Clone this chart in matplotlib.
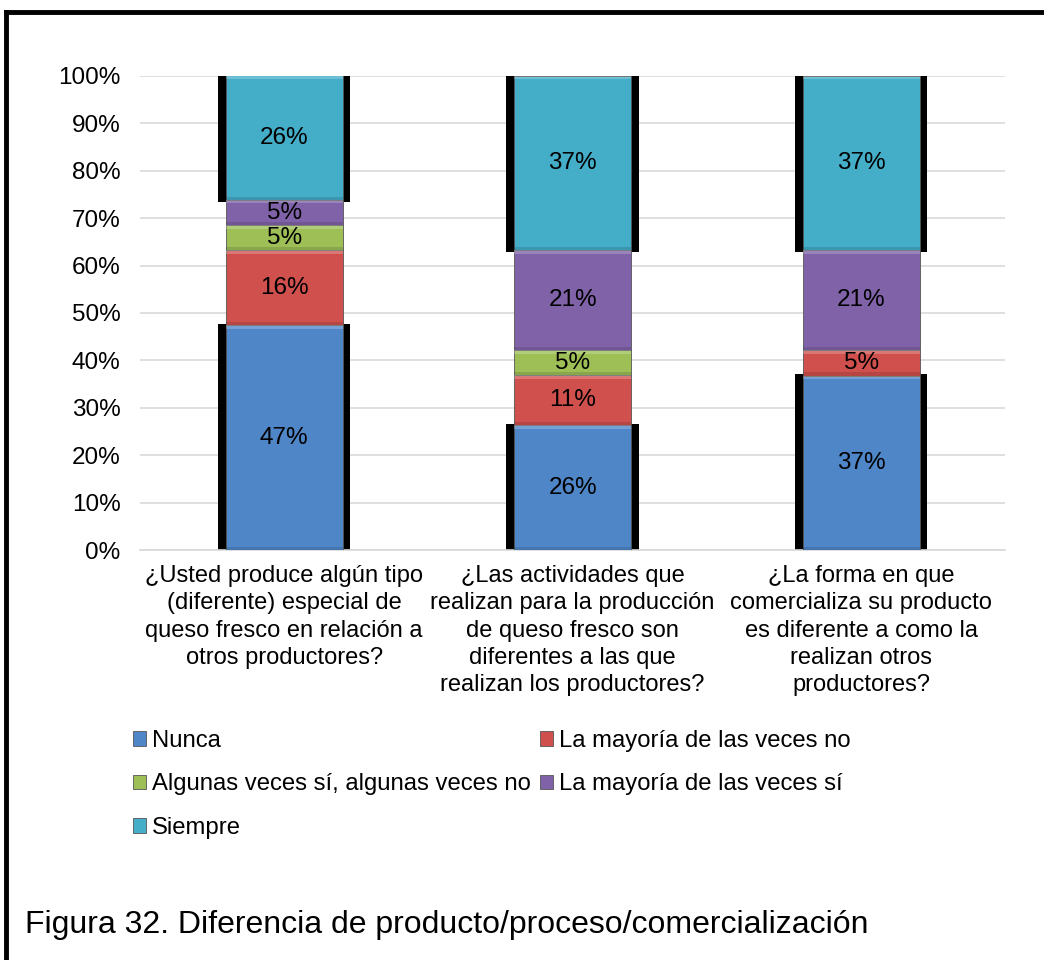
import matplotlib
matplotlib.use("Agg")
import matplotlib.pyplot as plt
import matplotlib.patches as mpatches
from matplotlib.lines import Line2D
import numpy as np

plt.rcParams['font.family'] = ['Liberation Sans', 'DejaVu Sans']

# Datos (porcentajes)
categorias = [
    "¿Usted produce algún tipo\n(diferente) especial de\nqueso fresco en relación a\notros productores?",
    "¿Las actividades que\nrealizan para la producción\nde queso fresco son\ndiferentes a las que\nrealizan los productores?",
    "¿La forma en que\ncomercializa su producto\nes diferente a como la\nrealizan otros\nproductores?",
]
series = ["Nunca", "La mayoría de las veces no", "Algunas veces sí, algunas veces no",
          "La mayoría de las veces sí", "Siempre"]
nunca = [47.4, 26.3, 36.8]
mayoria_no = [15.8, 10.53, 5.3]
algunas = [5.3, 5.3, 0.0]
mayoria_si = [5.3, 21.1, 21.1]
siempre = [26.3, 36.8, 36.8]
valores = [nunca, mayoria_no, algunas, mayoria_si, siempre]
colores = ["#4F86C8", "#D0504D", "#9DBF55", "#8062A8", "#44ADC8"]
sombra = [True, False, False, False, True]

fig = plt.figure(figsize=(10.44, 9.6), dpi=100)
ax = fig.add_axes([0.134, 0.427, 0.829, 0.494])

x = np.arange(len(categorias))
ancho = 0.405
base = np.zeros(len(categorias))
for vals, col, som in zip(valores, colores, sombra):
    vals = np.array(vals)
    if som:
        ax.bar(x, vals + 0.6, width=ancho + 0.055, bottom=base - 0.3, color="black", zorder=2)
    ax.bar(x, vals, width=ancho, bottom=base, color=col, edgecolor="#555555", linewidth=0.6, zorder=3)
    # bisel: claro arriba, oscuro abajo
    t = np.minimum(vals, 0.7)
    ax.bar(x, t, width=ancho, bottom=base + vals - t, color="white", alpha=0.22, linewidth=0, zorder=4)
    ax.bar(x, t, width=ancho, bottom=base, color="black", alpha=0.12, linewidth=0, zorder=4)
    for xi, v, b in zip(x, vals, base):
        if v > 0:
            ax.text(xi, b + v / 2, f"{v:.0f}%", ha="center", va="center", fontsize=17.5, zorder=5)
    base = base + vals

ax.set_ylim(0, 100)
ax.set_xlim(-0.5, 2.5)
ax.set_yticks(np.arange(0, 101, 10))
ax.set_yticklabels([f"{v}%" for v in range(0, 101, 10)], fontsize=17.5)
ax.set_xticks(x)
ax.set_xticklabels(categorias, fontsize=17, linespacing=1.3)
ax.tick_params(axis="y", length=0, pad=14)
ax.tick_params(axis="x", length=0, pad=11)
ax.grid(axis="y", color="#D9D9D9", linewidth=1.2, zorder=0)
ax.set_axisbelow(True)
for s in ["top", "right", "left"]:
    ax.spines[s].set_visible(False)
ax.spines["bottom"].set_color("#D9D9D9")
ax.spines["bottom"].set_linewidth(1.2)

orden = [0, 2, 4, 1, 3]
handles = [mpatches.Patch(facecolor=colores[i], edgecolor="#555555", linewidth=0.6) for i in orden]
labels = [series[i] for i in orden]
fig.legend(handles, labels, ncol=2, loc="upper left", bbox_to_anchor=(0.107, 0.262),
           frameon=False, fontsize=17.2, handlelength=0.55, handleheight=0.55,
           handletextpad=0.25, columnspacing=0.35, labelspacing=0.9)

# marco
fig.add_artist(Line2D([0.006, 0.006], [0.0, 0.987], color="black", linewidth=3.5))
fig.add_artist(Line2D([0.006, 1.0], [0.987, 0.987], color="black", linewidth=3.5))

fig.text(0.024, 0.028, "Figura 32. Diferencia de producto/proceso/comercialización",
         fontsize=23, ha="left", va="baseline")

fig.savefig("out.png", dpi=100)
